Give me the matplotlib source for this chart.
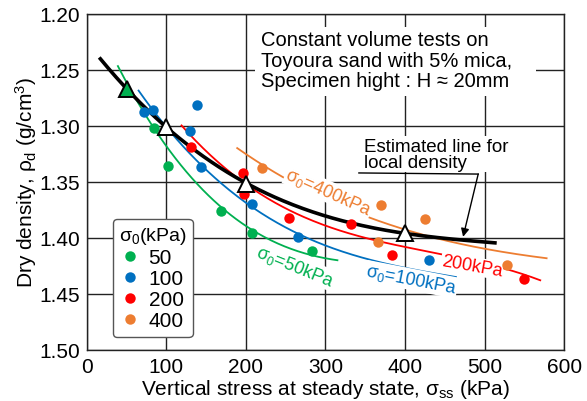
import numpy as np
import matplotlib
matplotlib.use("Agg")
import matplotlib.pyplot as plt
from matplotlib.patches import Rectangle

plt.rcParams['font.family'] = ['Liberation Sans', 'DejaVu Sans']
plt.rcParams['mathtext.fontset'] = 'custom'
plt.rcParams['mathtext.rm'] = 'Liberation Sans'
plt.rcParams['mathtext.it'] = 'Liberation Sans'

# ---- data ----
x50 = [85, 102, 169, 208, 283]
y50 = [1.302, 1.336, 1.376, 1.396, 1.412]
x100 = [72, 83, 130, 138, 143, 207, 265, 430]
y100 = [1.288, 1.286, 1.305, 1.281, 1.337, 1.370, 1.399, 1.420]
x200 = [131, 196, 198, 254, 332, 384, 549]
y200 = [1.319, 1.342, 1.361, 1.382, 1.388, 1.415, 1.437]
x400 = [220, 370, 425, 366, 528]
y400 = [1.338, 1.371, 1.383, 1.404, 1.424]

# local density (triangles)
xtri = [50, 100, 200, 400]
ytri = [1.267, 1.301, 1.352, 1.396]

# fitted curves
cx50 = [39, 51, 85, 101, 144, 171, 209, 285, 315]
cy50 = [1.244, 1.267, 1.302, 1.318, 1.353, 1.376, 1.396, 1.412, 1.422]
cx100 = [65, 100, 143, 207, 265, 353, 464]
cy100 = [1.266, 1.307, 1.331, 1.370, 1.399, 1.418, 1.435]
cx200 = [119, 143, 202, 269, 395, 479, 570]
cy200 = [1.297, 1.321, 1.353, 1.380, 1.405, 1.422, 1.437]
cx400 = [189, 221, 311, 395, 479, 578]
cy400 = [1.318, 1.338, 1.367, 1.392, 1.407, 1.418]
cxest = [17, 51, 100, 143, 202, 269, 334, 401, 470, 513]
cyest = [1.242, 1.264, 1.301, 1.329, 1.352, 1.370, 1.3875, 1.397, 1.402, 1.404]

legend_labels = ['50', '100', '200', '400']
colors = ['#00B050', '#0070C0', '#FF0000', '#ED7D31']

xticks = [0, 100, 200, 300, 400, 500, 600]
yticks = [1.20, 1.25, 1.30, 1.35, 1.40, 1.45, 1.50]


def smooth(xs, ys, deg=3, n=200):
    xs = np.asarray(xs, float)
    c = np.polyfit(xs, ys, deg)
    xx = np.linspace(xs.min(), xs.max(), n)
    return xx, np.polyval(c, xx)


fig = plt.figure(figsize=(5.87, 4.02), dpi=100)
ax = fig.add_axes([0.148, 0.127, 0.813, 0.836])

ax.set_xlim(0, 600)
ax.set_ylim(1.50, 1.20)
ax.set_xticks(xticks)
ax.set_yticks(yticks)
ax.set_xticklabels([str(v) for v in xticks])
ax.set_yticklabels([f"{v:.2f}" for v in yticks])
ax.tick_params(length=0, labelsize=15, pad=5)
ax.grid(True, color='#222222', lw=1.0, zorder=0)
ax.set_axisbelow(True)
for s in ax.spines.values():
    s.set_linewidth(1.0)
    s.set_color('#222222')

ax.set_xlabel(r"Vertical stress at steady state, $\sigma_{\mathrm{ss}}$ (kPa)",
              fontsize=15, labelpad=1)
ax.set_ylabel(r"Dry density, $\rho_{\mathrm{d}}$ (g/cm$^3$)", fontsize=15, labelpad=0)

# white box behind title text
ax.add_patch(Rectangle((0.352, 0.756), 0.589, 0.205, transform=ax.transAxes,
                       facecolor='white', edgecolor='none', zorder=1))
ax.text(0.365, 0.952, "Constant volume tests on\nToyoura sand with 5% mica,\n"
        "Specimen hight : H \u2248 20mm", transform=ax.transAxes,
        fontsize=14.5, va='top', ha='left', linespacing=1.1, zorder=2)

# curves
for cx, cy, col in [(cx50, cy50, colors[0]), (cx100, cy100, colors[1]),
                    (cx200, cy200, colors[2]), (cx400, cy400, colors[3])]:
    xx, yy = smooth(cx, cy)
    ax.plot(xx, yy, color=col, lw=1.3, zorder=3)
xx, yy = smooth(cxest, cyest)
ax.plot(xx, yy, color='black', lw=2.6, zorder=4)

# points
handles = []
for xs, ys, col, lab in [(x50, y50, colors[0], legend_labels[0]),
                         (x100, y100, colors[1], legend_labels[1]),
                         (x200, y200, colors[2], legend_labels[2]),
                         (x400, y400, colors[3], legend_labels[3])]:
    h, = ax.plot(xs, ys, 'o', color=col, ms=7.5, mec='none', zorder=5, label=lab)
    handles.append(h)

# triangles
ax.plot(xtri[1:], ytri[1:], '^', ms=12, mfc='white', mec='black', mew=1.4, zorder=6)
ax.plot(xtri[:1], ytri[:1], '^', ms=12, mfc=colors[0], mec='black', mew=1.4, zorder=6)

# curve labels
bb = dict(facecolor='white', edgecolor='none', pad=0.5)
ax.text(262, 1.425, r"$\sigma_0$=50kPa", color=colors[0], fontsize=13,
        rotation=-22, ha='center', va='center', zorder=4.5, bbox=bb)
ax.text(408, 1.437, r"$\sigma_0$=100kPa", color=colors[1], fontsize=13,
        rotation=-11, ha='center', va='center', zorder=4.5, bbox=bb)
ax.text(484, 1.425, "200kPa", color=colors[2], fontsize=13,
        rotation=-10, ha='center', va='center', zorder=4.5, bbox=bb)
ax.text(304, 1.359, r"$\sigma_0$=400kPa", color=colors[3], fontsize=13,
        rotation=-24, ha='center', va='center', zorder=3.5, bbox=bb)

# estimated line annotation
ax.text(348, 1.3105, "Estimated line for\nlocal density", fontsize=13.5,
        ha='left', va='top', linespacing=0.95, zorder=3.5,
        bbox=dict(facecolor='white', edgecolor='none', pad=1))
ax.plot([342, 492], [1.342, 1.343], color='black', lw=1.0, zorder=7)
ax.annotate("", xy=(473, 1.399), xytext=(492, 1.343),
            arrowprops=dict(arrowstyle='-|>', color='black', lw=1.0,
                            mutation_scale=12, shrinkA=0, shrinkB=0), zorder=7)

leg = ax.legend(handles=handles, title=r"$\sigma_0$(kPa)", loc='upper left',
                bbox_to_anchor=(0.054, 0.39), borderaxespad=0, fontsize=15,
                title_fontsize=14, frameon=True, fancybox=True, edgecolor='#555555',
                framealpha=1, handlelength=0.8, handletextpad=0.5,
                labelspacing=0.1, borderpad=0.3, markerscale=1.0)
leg.get_frame().set_linewidth(1.0)
leg.set_zorder(8)

fig.savefig("out.png", dpi=100)
